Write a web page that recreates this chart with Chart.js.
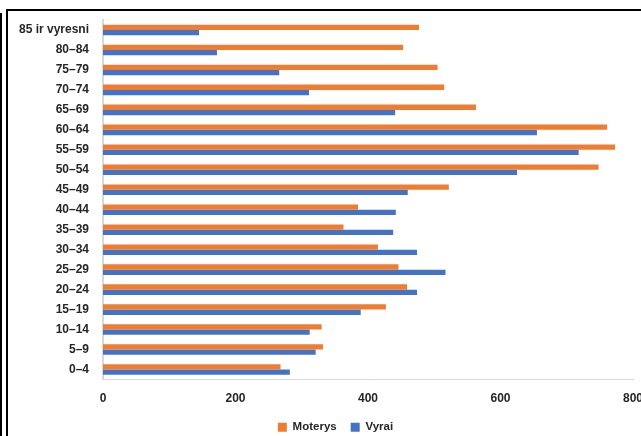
<!DOCTYPE html>
<html>
<head>
<meta charset="utf-8">
<script src="https://cdn.jsdelivr.net/npm/chart.js@4.4.1/dist/chart.umd.min.js"></script>
<style>
    html, body { margin: 0; padding: 0; background: #fff; overflow: hidden; }
    #wrap { position: relative; width: 641px; height: 436px; }
    #chart { position: absolute; left: 0; top: 0; }
    .line-outer { position: absolute; left: 0; top: 13px; width: 2px; bottom: 0; background: #000; }
    .frame { position: absolute; left: 6px; top: 9px; right: -10px; bottom: -10px; border-left: 2px solid #000; border-top: 2px solid #000; }
</style>
</head>
<body>
<div id="wrap">
    <canvas id="chart" width="641" height="436"></canvas>
    <div class="line-outer"></div>
    <div class="frame"></div>
</div>
<script>
const ageGroups = ['85 ir vyresni', '80–84', '75–79', '70–74', '65–69', '60–64', '55–59', '50–54', '45–49',
    '40–44', '35–39', '30–34', '25–29', '20–24', '15–19', '10–14', '5–9', '0–4'];
const women = [477, 453, 505, 515, 563, 761, 773, 748, 522, 385, 363, 415, 446, 459, 427, 330, 332, 268];
const men = [145, 172, 266, 311, 441, 655, 718, 625, 460, 442, 438, 474, 517, 474, 389, 312, 321, 282];
const xTicks = [0, 200, 400, 600, 800];

const ink = '#262626';
const axisGray = '#d9d9d9';
const family = "'Liberation Sans', Arial, sans-serif";
const tickFont = { family, size: 12, weight: 'bold' };
const legendFont = { family, size: 11.5, weight: 'bold' };

// the legend sits a bit right of the canvas centre, as in the original
const legendShift = {
    id: 'legendShift',
    afterLayout(chart) {
        if (chart.legend) {
            chart.legend.left += 15;
            chart.legend.right += 15;
        }
    },
};

new Chart(document.getElementById('chart'), {
    type: 'bar',
    data: {
        labels: ageGroups,
        datasets: [
            { label: 'Moterys', data: women, backgroundColor: '#ed7d31' },
            { label: 'Vyrai', data: men, backgroundColor: '#4472c4' },
        ],
    },
    plugins: [legendShift],
    options: {
        indexAxis: 'y',
        responsive: false,
        animation: false,
        devicePixelRatio: 1,
        layout: { padding: { left: 8, right: 8, top: 20, bottom: -7 } },
        datasets: { bar: { categoryPercentage: 0.53, barPercentage: 1 } },
        plugins: {
            tooltip: { enabled: false },
            legend: {
                position: 'bottom',
                labels: { color: ink, font: legendFont, boxWidth: 9, boxHeight: 9, padding: 14 },
            },
        },
        scales: {
            x: {
                min: 0,
                max: 800,
                afterBuildTicks: (scale) => { scale.ticks = xTicks.map((v) => ({ value: v })); },
                grid: { display: false, drawTicks: false },
                border: { display: true, color: axisGray, width: 1 },
                ticks: { color: ink, font: tickFont, padding: 12, maxRotation: 0 },
                afterFit: (scale) => { scale.height = 28; scale.paddingLeft = 0; scale.paddingRight = 0; },
            },
            y: {
                grid: { display: false, drawTicks: false },
                border: { display: true, color: axisGray, width: 2 },
                ticks: { color: ink, font: tickFont, padding: 14, autoSkip: false },
                afterFit: (scale) => { scale.width = 95; scale.paddingTop = 0; scale.paddingBottom = 0; },
            },
        },
    },
});
</script>
</body>
</html>
